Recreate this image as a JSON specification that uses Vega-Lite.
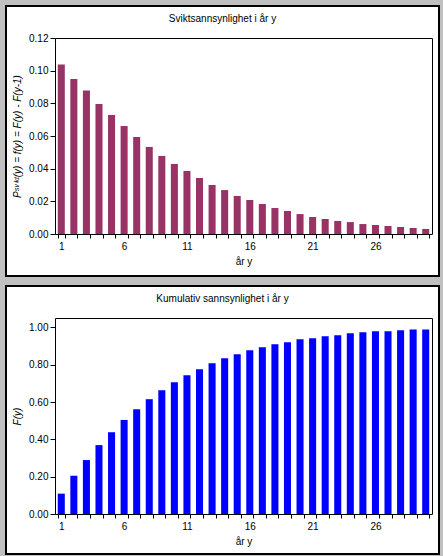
{
  "$schema": "https://vega.github.io/schema/vega-lite/v6.json",
  "background": "#c0c0c0",
  "padding": {"left": 5, "top": 5, "right": 5, "bottom": 5},
  "autosize": {"type": "pad"},
  "spacing": 8,
  "config": {
    "font": "Liberation Sans",
    "view": {"fill": "white", "stroke": "black", "strokeWidth": 2},
    "axis": {
      "labelFont": "Liberation Sans", "labelFontSize": 10, "labelColor": "black",
      "titleFont": "Liberation Sans", "titleFontSize": 10, "titleFontWeight": "normal", "titleColor": "black",
      "domainColor": "black", "domainWidth": 1, "tickColor": "black", "grid": false
    },
    "title": {"font": "Liberation Sans", "fontSize": 10, "fontWeight": "normal", "color": "black", "frame": "group", "anchor": "middle", "offset": -18}
  },
  "data": {"values": [
    {"year": 1, "f": 0.1037, "F": 0.109},
    {"year": 2, "f": 0.0949, "F": 0.205},
    {"year": 3, "f": 0.0878, "F": 0.289},
    {"year": 4, "f": 0.0796, "F": 0.369},
    {"year": 5, "f": 0.0729, "F": 0.438},
    {"year": 6, "f": 0.0661, "F": 0.504},
    {"year": 7, "f": 0.0594, "F": 0.561},
    {"year": 8, "f": 0.0533, "F": 0.615},
    {"year": 9, "f": 0.0478, "F": 0.663},
    {"year": 10, "f": 0.0429, "F": 0.706},
    {"year": 11, "f": 0.0386, "F": 0.743},
    {"year": 12, "f": 0.0343, "F": 0.775},
    {"year": 13, "f": 0.0300, "F": 0.807},
    {"year": 14, "f": 0.0269, "F": 0.834},
    {"year": 15, "f": 0.0233, "F": 0.856},
    {"year": 16, "f": 0.0208, "F": 0.877},
    {"year": 17, "f": 0.0184, "F": 0.893},
    {"year": 18, "f": 0.0159, "F": 0.909},
    {"year": 19, "f": 0.0141, "F": 0.920},
    {"year": 20, "f": 0.0122, "F": 0.936},
    {"year": 21, "f": 0.0104, "F": 0.941},
    {"year": 22, "f": 0.0092, "F": 0.952},
    {"year": 23, "f": 0.0080, "F": 0.957},
    {"year": 24, "f": 0.0073, "F": 0.968},
    {"year": 25, "f": 0.0061, "F": 0.973},
    {"year": 26, "f": 0.0055, "F": 0.979},
    {"year": 27, "f": 0.0049, "F": 0.979},
    {"year": 28, "f": 0.0043, "F": 0.984},
    {"year": 29, "f": 0.0037, "F": 0.989},
    {"year": 30, "f": 0.0031, "F": 0.989}
  ]},
  "vconcat": [
    {
      "width": 433, "height": 270,
      "title": {"text": "Sviktsannsynlighet i år y"},
      "layer": [
        {
          "mark": {"type": "bar", "color": "#993366"},
          "encoding": {
            "x": {"field": "year", "type": "ordinal",
              "scale": {"range": [49, 426], "paddingInner": 0.44, "paddingOuter": 0.22},
              "axis": {"title": "år y", "orient": "bottom", "offset": -42, "tickBand": "extent", "labelAngle": 0,
                "labelExpr": "(datum.value - 1) % 5 === 0 ? datum.label : ''", "labelOverlap": false,
                "tickSize": 4, "labelPadding": 3, "titlePadding": 5}},
            "y": {"field": "f", "type": "quantitative",
              "scale": {"domain": [0, 0.12], "range": [228, 32], "nice": false},
              "axis": {"title": "Pˢᵛⁱᵏᵗ(y) = f(y) = F(y) - F(y-1)", "titleFontStyle": "italic", "orient": "left", "offset": -49,
                "values": [0, 0.02, 0.04, 0.06, 0.08, 0.1, 0.12], "format": ".2f",
                "tickSize": 5, "labelPadding": 2, "titlePadding": 6}}
          }
        },
        {
          "mark": {"type": "bar", "opacity": 0},
          "encoding": {
            "x": {"field": "year", "type": "ordinal",
              "axis": {"title": null, "orient": "top", "offset": -32, "labels": false, "ticks": false}},
            "y": {"field": "f", "type": "quantitative",
              "axis": {"title": null, "orient": "right", "offset": -7, "labels": false, "ticks": false}}
          }
        }
      ],
      "resolve": {"axis": {"x": "independent", "y": "independent"}}
    },
    {
      "width": 433, "height": 268,
      "title": {"text": "Kumulativ sannsynlighet i år y"},
      "layer": [
        {
          "mark": {"type": "bar", "color": "#0000ff"},
          "encoding": {
            "x": {"field": "year", "type": "ordinal",
              "scale": {"range": [49, 426], "paddingInner": 0.44, "paddingOuter": 0.22},
              "axis": {"title": "år y", "orient": "bottom", "offset": -40, "tickBand": "extent", "labelAngle": 0,
                "labelExpr": "(datum.value - 1) % 5 === 0 ? datum.label : ''", "labelOverlap": false,
                "tickSize": 4, "labelPadding": 3, "titlePadding": 5}},
            "y": {"field": "F", "type": "quantitative",
              "scale": {"domain": [0, 1.05], "range": [228, 32], "nice": false},
              "axis": {"title": "F(y)", "titleFontStyle": "italic", "orient": "left", "offset": -49,
                "values": [0, 0.2, 0.4, 0.6, 0.8, 1.0], "format": ".2f",
                "tickSize": 5, "labelPadding": 2, "titlePadding": 6}}
          }
        },
        {
          "mark": {"type": "bar", "opacity": 0},
          "encoding": {
            "x": {"field": "year", "type": "ordinal",
              "axis": {"title": null, "orient": "top", "offset": -32, "labels": false, "ticks": false}},
            "y": {"field": "F", "type": "quantitative",
              "axis": {"title": null, "orient": "right", "offset": -7, "labels": false, "ticks": false}}
          }
        }
      ],
      "resolve": {"axis": {"x": "independent", "y": "independent"}}
    }
  ]
}
